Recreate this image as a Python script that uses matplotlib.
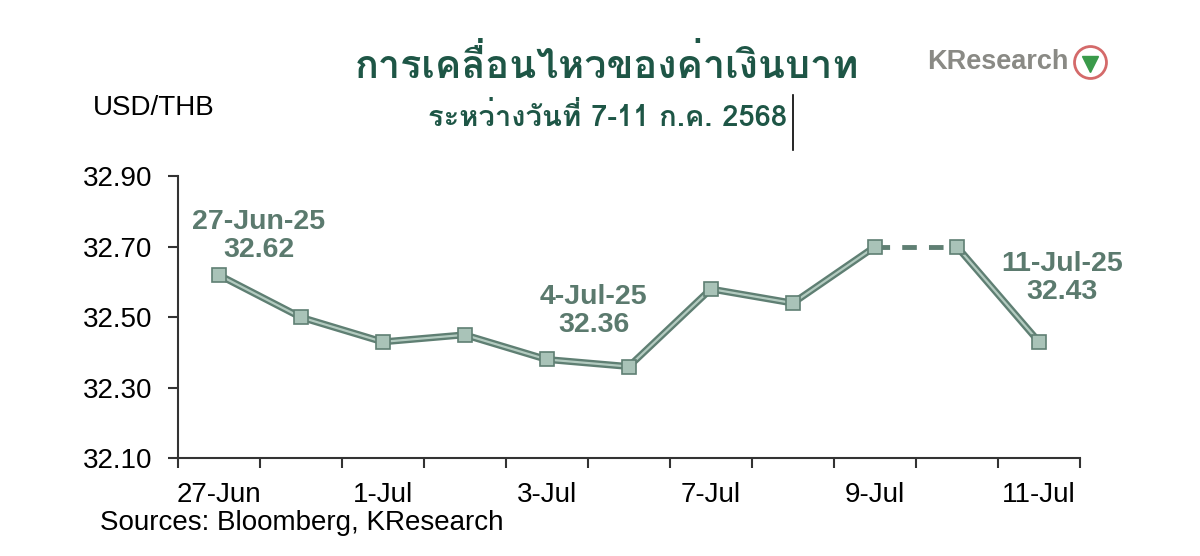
import matplotlib
matplotlib.use("Agg")
import matplotlib.pyplot as plt
from matplotlib import font_manager
from matplotlib.ft2font import FT2Font

# ข้อมูล
dates = ['27-Jun', '30-Jun', '1-Jul', '2-Jul', '3-Jul', '4-Jul',
         '7-Jul', '8-Jul', '9-Jul', '10-Jul', '11-Jul']
usdthb = [32.62, 32.50, 32.43, 32.45, 32.38, 32.36,
          32.58, 32.54, 32.70, 32.70, 32.43]
yticks = [32.10, 32.30, 32.50, 32.70, 32.90]
# ป้ายกำกับจุดสำคัญ (index, ข้อความ)
callouts = [(0, '27-Jun-25\n32.62'), (5, '4-Jul-25\n32.36'), (10, '11-Jul-25\n32.43')]

title = 'การเคลื่อนไหวของค่าเงินบาท'
subtitle = 'ระหว่างวันที่ 7-11 ก.ค. 2568'


def find_thai_font():
    # หาฟอนต์ที่มีตัวอักษรไทย
    best = None
    for f in font_manager.fontManager.ttflist:
        try:
            cmap = FT2Font(f.fname).get_charmap()
        except Exception:
            continue
        if 0x0E01 in cmap and 0x0E40 in cmap:
            if best is None or (f.weight in ('bold', 700) and best.weight not in ('bold', 700)):
                best = f
    return best.name if best else 'DejaVu Sans'


thai = find_thai_font()
plt.rcParams['font.family'] = ['Liberation Sans', 'DejaVu Sans']

dark = '#5f7f73'
light = '#b3cbc0'
title_col = '#1e5646'

fig = plt.figure(figsize=(12, 5.56), dpi=100)
ax = fig.add_axes([0.148, 0.176, 0.752, 0.507])

x = list(range(len(dates)))
for seg in (slice(0, 9), slice(9, 11)):
    ax.plot(x[seg], usdthb[seg], color=dark, lw=5, solid_capstyle='round', zorder=2)
    ax.plot(x[seg], usdthb[seg], color=light, lw=1.6, zorder=3)
ax.plot(x[8:10], usdthb[8:10], color=dark, lw=3.5, ls=(0, (3, 2.5)), zorder=2)
ax.plot(x, usdthb, ls='none', marker='s', ms=10, mfc='#a9c3b8', mec=dark, mew=1.2, zorder=4)

offsets = {0: (40, 39), 5: (-35, 56), 10: (23, 64)}
for i, txt in callouts:
    ax.annotate(txt, (i, usdthb[i]), xytext=offsets[i], textcoords='offset pixels',
                ha='center', va='center', fontsize=20.5, fontweight='bold',
                color='#5b7a6e', linespacing=1.1)

ax.set_xlim(-0.5, len(dates) - 0.5)
ax.set_ylim(32.10, 32.90)
ax.set_yticks(yticks)
ax.set_yticklabels([f'{v:.2f}' for v in yticks])
ax.set_xticks(x[::2])
ax.set_xticklabels(dates[::2])
ax.set_xticks([i - 0.5 for i in range(len(dates) + 1)], minor=True)
ax.tick_params(axis='x', which='major', length=0, pad=17, labelsize=20)
ax.tick_params(axis='x', which='minor', length=7, width=1.5, color='#333333')
ax.tick_params(axis='y', length=7, width=1.5, color='#333333', labelsize=20, pad=11)
for s in ('top', 'right'):
    ax.spines[s].set_visible(False)
for s in ('left', 'bottom'):
    ax.spines[s].set_linewidth(1.5)
    ax.spines[s].set_color('#333333')

fig.text(0.506, 0.882, title, ha='center', va='center', fontsize=28.5,
         fontweight='bold', color=title_col, family=[thai, 'DejaVu Sans'])
fig.text(0.506, 0.788, subtitle, ha='center', va='center', fontsize=21,
         fontweight='bold', color=title_col, family=[thai, 'DejaVu Sans'])
fig.add_artist(plt.Line2D([0.661, 0.661], [0.73, 0.83], color='black', lw=1.2))

fig.text(0.077, 0.805, 'USD/THB', ha='left', va='center', fontsize=20)
fig.text(0.083, 0.059, 'Sources: Bloomberg, KResearch', ha='left', va='center', fontsize=20)

# โลโก้ KResearch
fig.text(0.773, 0.888, 'KResearch', ha='left', va='center', fontsize=19.5,
         fontweight='bold', color='#8a8a85')
fig.add_artist(plt.Line2D([0.9083], [0.888], marker='o', ms=23, mfc='white',
                          mec='#d46a6a', mew=2))
fig.add_artist(plt.Line2D([0.9083], [0.885], marker='v', ms=12, color='#3a9a4a'))

fig.savefig('out.png', dpi=100)
